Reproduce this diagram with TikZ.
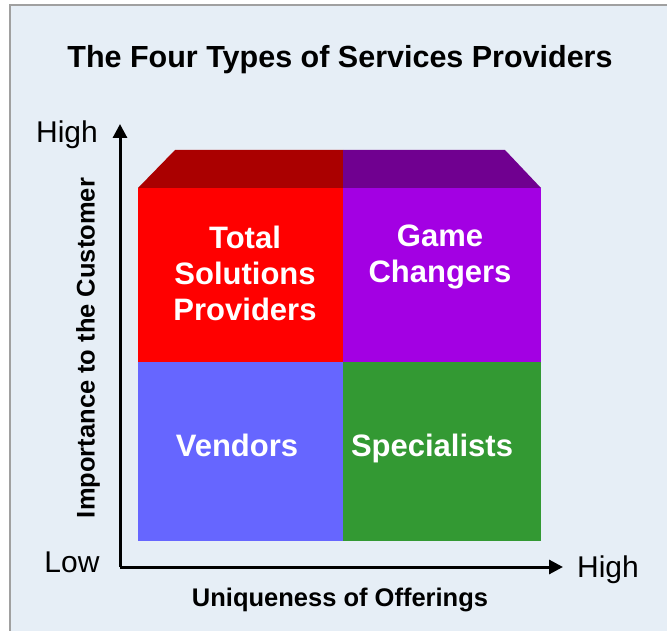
\documentclass[tikz,border=0pt]{standalone}
\usepackage{fontspec}
\setmainfont{Liberation Sans}
\usetikzlibrary{arrows.meta}
\definecolor{bgblue}{HTML}{E6EEF6}
\definecolor{framegray}{HTML}{A0A0A0}
\definecolor{tsred}{HTML}{FF0000}
\definecolor{tsdark}{HTML}{AA0000}
\definecolor{gcpurple}{HTML}{A300E3}
\definecolor{gcdark}{HTML}{700090}
\definecolor{vdblue}{HTML}{6666FF}
\definecolor{spgreen}{HTML}{339933}
\tikzset{
  quadlabel/.style={text=white, font=\fontsize{31}{36}\selectfont\bfseries, align=center},
  axislabel/.style={font=\fontsize{25.5}{28}\selectfont\bfseries},
  endlabel/.style={font=\fontsize{30}{32}\selectfont},
  axis/.style={line width=3pt, -{Triangle[length=14pt, width=14pt]}}
}
\begin{document}
\begin{tikzpicture}[x=1pt, y=-1pt]
	% Frame
	\useasboundingbox (0,0) rectangle (667,631);
	\fill[bgblue] (10,5) rectangle (667,631);
	\draw[framegray, line width=1.5pt] (10,631) -- (10,5) -- (667,5);
	
	% Title
	\node[font=\fontsize{30.5}{34}\selectfont\bfseries] (title) at (340,60) {The Four Types of Services Providers};
	
	% Top faces
	\fill[tsdark] (138,188) -- (175,150) -- (343,150) -- (343,188) -- cycle;
	\fill[gcdark] (343,188) -- (343,150) -- (505,150) -- (541,188) -- cycle;
	
	% Quadrants
	\fill[tsred] (138,188) rectangle (343,362);
	\fill[gcpurple] (343,188) rectangle (541,362);
	\fill[vdblue] (138,362) rectangle (343,541);
	\fill[spgreen] (343,362) rectangle (541,541);
	
	\node[quadlabel] (tsp) at (245,273) {Total\\Solutions\\Providers};
	\node[quadlabel] (gc) at (440,257) {Game\\Changers};
	\node[quadlabel, anchor=base] (vd) at (237,456) {Vendors};
	\node[quadlabel, anchor=base] (sp) at (432,456) {Specialists};
	
	% Axes
	\coordinate (origin) at (120,567);
	\coordinate (ytip) at (120,124);
	\coordinate (xtip) at (563,567);
	\draw[axis] (origin) -- (ytip);
	\draw[axis] (origin) -- (xtip);
	
	% Axis labels
	\node[endlabel] (yhigh) at (67,135) {High};
	\node[endlabel] (low) at (72,562) {Low};
	\node[endlabel] (xhigh) at (608,570) {High};
	\node[axislabel, rotate=90] (ylabel) at (88,348) {Importance to the Customer};
	\node[axislabel] (xlabel) at (340,600) {Uniqueness of Offerings};
\end{tikzpicture}
\end{document}
